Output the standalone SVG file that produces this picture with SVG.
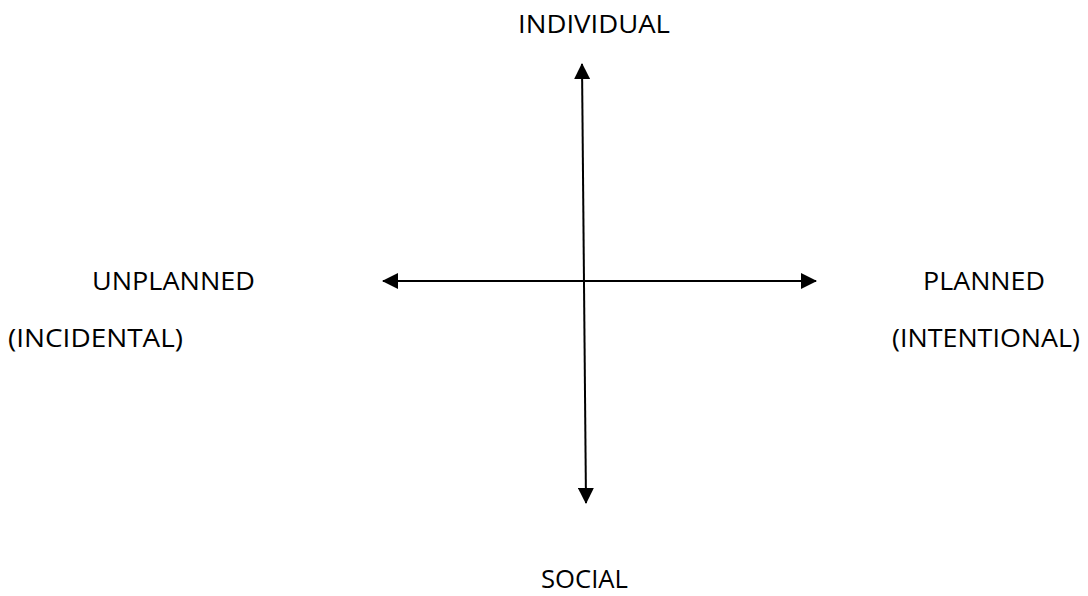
<svg xmlns="http://www.w3.org/2000/svg" width="1088" height="596" viewBox="0 0 1088 596">
<style>
text{font-family:"Open Sans","Noto Sans",sans-serif;font-size:25.5px;fill:#000}
.ax{stroke:#000;stroke-width:2;fill:none}
</style>
<defs>
<marker id="ah" viewBox="0 0 16 16" refX="15" refY="8" markerWidth="16" markerHeight="16" markerUnits="userSpaceOnUse" orient="auto-start-reverse">
<path d="M0,0 L16,8 L0,16 Z" fill="#000"/>
</marker>
</defs>
<rect width="1088" height="596" fill="#fff"/>
<g id="connectors">
<line class="ax" x1="582" y1="64" x2="586" y2="503" marker-start="url(#ah)" marker-end="url(#ah)"/>
<line class="ax" x1="383" y1="281" x2="816" y2="281" marker-start="url(#ah)" marker-end="url(#ah)"/>
</g>
<g id="individual"><text x="518" y="33" textLength="152" lengthAdjust="spacingAndGlyphs">INDIVIDUAL</text></g>
<g id="unplanned"><text x="92" y="290" textLength="163" lengthAdjust="spacingAndGlyphs">UNPLANNED</text>
<text x="8" y="347" textLength="175" lengthAdjust="spacingAndGlyphs">(INCIDENTAL)</text></g>
<g id="planned"><text x="923" y="290" textLength="122" lengthAdjust="spacingAndGlyphs">PLANNED</text>
<text x="892" y="347" textLength="188" lengthAdjust="spacingAndGlyphs">(INTENTIONAL)</text></g>
<g id="social"><text x="541" y="588" textLength="87" lengthAdjust="spacingAndGlyphs">SOCIAL</text></g>
</svg>
